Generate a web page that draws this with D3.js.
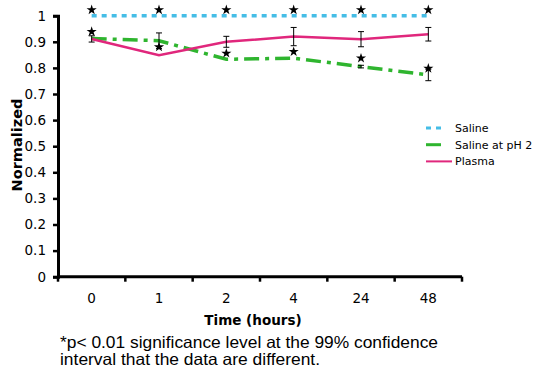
<!DOCTYPE html>
<html>
<head>
<meta charset="utf-8">
<script src="https://cdn.jsdelivr.net/npm/d3@7"></script>
<style>
  body { margin: 0; background: #fff; }
  svg { display: block; }
</style>
</head>
<body>
<svg id="chart" width="534" height="377"></svg>
<script>
// Data
const times = ["0", "1", "2", "4", "24", "48"];
const saline = [1, 1, 1, 1, 1, 1];
const salinePH2 = [0.913, 0.904, 0.833, 0.837, 0.805, 0.773];
const plasma = [0.911, 0.849, 0.9, 0.92, 0.91, 0.929];
const salinePH2Err = [0, 0.03, 0, 0, 0.005, 0.022];
const plasmaErr = [0.012, 0, 0.021, 0.035, 0.029, 0.026];
const salineStars = [1.022, 1.022, 1.022, 1.022, 1.022, 1.022];
const otherStars = [0.939, 0.88, 0.856, 0.862, 0.837, 0.798];
const yTicks = [0, 0.1, 0.2, 0.3, 0.4, 0.5, 0.6, 0.7, 0.8, 0.9, 1];

const svg = d3.select("#chart");

const x = d3.scaleBand().domain(times).range([58, 462]).padding(0);
const y = d3.scaleLinear().domain([0, 1]).range([276.7, 15.7]);
const cx = d => x(d) + x.bandwidth() / 2;

// Y axis
const yAxis = svg.append("g")
    .attr("transform", "translate(58,0)")
    .call(d3.axisLeft(y).tickValues(yTicks).tickFormat(d3.format("")).tickSizeOuter(0).tickSize(5).tickPadding(7));
yAxis.select(".domain").attr("stroke", "#000").attr("stroke-width", 3);
yAxis.selectAll(".tick line").attr("stroke", "#000").attr("stroke-width", 2.5);
yAxis.selectAll(".tick text")
    .style("font-family", "DejaVu Sans, Verdana, sans-serif")
    .style("font-size", "13.5px")
    .attr("fill", "#000");

// X axis: tick marks at band boundaries
const edges = d3.range(times.length + 1).map(i => 58 + i * x.bandwidth());
svg.append("line")
    .attr("x1", 58).attr("x2", 462)
    .attr("y1", y(0)).attr("y2", y(0))
    .attr("stroke", "#000").attr("stroke-width", 3);
svg.selectAll(".xtick").data(edges).enter().append("line")
    .attr("class", "xtick")
    .attr("x1", d => d).attr("x2", d => d)
    .attr("y1", y(0)).attr("y2", y(0) + 5)
    .attr("stroke", "#000").attr("stroke-width", 2.5);

const xAxis = svg.append("g")
    .attr("transform", `translate(0,${y(0)})`)
    .call(d3.axisBottom(x).tickSize(0).tickPadding(17));
xAxis.select(".domain").remove();
xAxis.selectAll(".tick text")
    .style("font-family", "DejaVu Sans, Verdana, sans-serif")
    .style("font-size", "13.5px")
    .attr("fill", "#000");

// Axis titles
svg.append("text")
    .attr("x", 253).attr("y", 325)
    .attr("text-anchor", "middle")
    .style("font-family", "DejaVu Sans, Verdana, sans-serif")
    .style("font-size", "13.5px").style("font-weight", "bold")
    .text("Time (hours)");

svg.append("text")
    .attr("transform", "translate(22,145) rotate(-90)")
    .attr("text-anchor", "middle")
    .style("font-family", "DejaVu Sans, Verdana, sans-serif")
    .style("font-size", "14.5px").style("font-weight", "bold")
    .text("Normalized");

// Series
const line = d3.line().x((d, i) => cx(times[i])).y(d => y(d));

svg.append("path").datum(saline)
    .attr("d", line).attr("fill", "none")
    .attr("stroke", "#45bde6").attr("stroke-width", 3.5)
    .attr("stroke-dasharray", "5,5");

svg.append("path").datum(salinePH2)
    .attr("d", line).attr("fill", "none")
    .attr("stroke", "#2fb52f").attr("stroke-width", 3.5)
    .attr("stroke-dasharray", "15,6,4,6");

svg.append("path").datum(plasma)
    .attr("d", line).attr("fill", "none")
    .attr("stroke", "#e0277c").attr("stroke-width", 2.5);

// Error bars
function errorBars(vals, errs) {
    const g = svg.append("g");
    vals.forEach((v, i) => {
        if (!errs[i]) return;
        const px = cx(times[i]);
        const y1 = y(v + errs[i]), y2 = y(v - errs[i]);
        g.append("line").attr("x1", px).attr("x2", px).attr("y1", y1).attr("y2", y2)
            .attr("stroke", "#000").attr("stroke-width", 1);
        [y1, y2].forEach(yy => g.append("line")
            .attr("x1", px - 3).attr("x2", px + 3).attr("y1", yy).attr("y2", yy)
            .attr("stroke", "#000").attr("stroke-width", 1));
    });
}
errorBars(salinePH2, salinePH2Err);
errorBars(plasma, plasmaErr);

// Significance stars
const star = d3.symbol().type(d3.symbolStar).size(32);
function stars(vals) {
    svg.append("g").selectAll("path").data(vals).enter().append("path")
        .attr("d", star)
        .attr("transform", (d, i) => `translate(${cx(times[i])},${y(d)})`)
        .attr("fill", "#000");
}
stars(salineStars);
stars(otherStars);

// Legend
const legend = [
    { name: "Saline", color: "#45bde6", dash: "5,5", w: 3, len: 15 },
    { name: "Saline at pH 2", color: "#2fb52f", dash: "15,6,4,6", w: 3, len: 15 },
    { name: "Plasma", color: "#e0277c", dash: null, w: 2, len: 26 }
];
const lg = svg.append("g").attr("transform", "translate(426,128)");
legend.forEach((d, i) => {
    lg.append("line")
        .attr("x1", 0).attr("x2", d.len)
        .attr("y1", i * 16.7).attr("y2", i * 16.7)
        .attr("stroke", d.color).attr("stroke-width", d.w)
        .attr("stroke-dasharray", d.dash);
    lg.append("text")
        .attr("x", 29).attr("y", i * 16.7 + 4)
        .style("font-family", "DejaVu Sans, Verdana, sans-serif")
        .style("font-size", "11px")
        .attr("fill", "#000")
        .text(d.name);
});

// Footnote
const note = svg.append("text")
    .style("font-family", "Liberation Sans, Arial, sans-serif")
    .style("font-size", "16.5px")
    .attr("fill", "#000");
note.append("tspan").attr("x", 60).attr("y", 348)
    .attr("textLength", 378).attr("lengthAdjust", "spacingAndGlyphs")
    .text("*p< 0.01 significance level at the 99% confidence");
note.append("tspan").attr("x", 60).attr("y", 365)
    .attr("textLength", 260).attr("lengthAdjust", "spacingAndGlyphs")
    .text("interval that the data are different.");
</script>
</body>
</html>
